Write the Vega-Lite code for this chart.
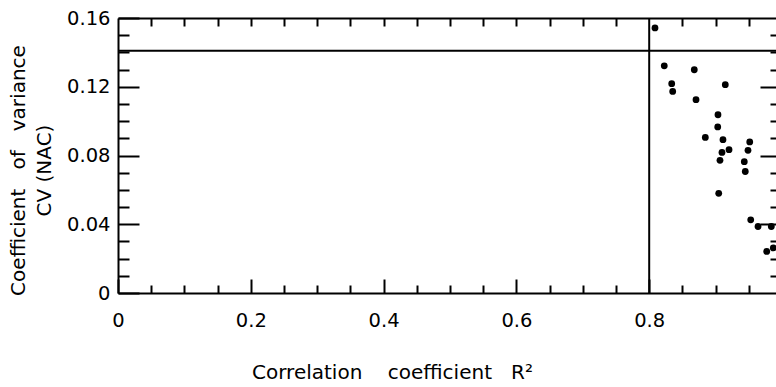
{
  "$schema": "https://vega.github.io/schema/vega-lite/v6.json",
  "autosize": {"type": "none"},
  "padding": {"left": 118, "top": 18, "right": 0, "bottom": 94},
  "width": 658,
  "height": 275,
  "background": "white",
  "config": {
    "view": {"stroke": null},
    "axis": {"grid": false, "domainColor": "black", "domainWidth": 2, "tickColor": "black", "tickWidth": 2, "labelColor": "black", "titleColor": "black", "labelFont": "DejaVu Sans", "titleFont": "DejaVu Sans", "labelFontSize": 19.5, "titleFontSize": 20, "titleFontWeight": "normal"}
  },
  "datasets": {
    "pts": [
      {"r2": 0.8087, "cv": 0.1542},
      {"r2": 0.8227, "cv": 0.1322},
      {"r2": 0.8679, "cv": 0.1299},
      {"r2": 0.8339, "cv": 0.1218},
      {"r2": 0.8354, "cv": 0.1173},
      {"r2": 0.9146, "cv": 0.1212},
      {"r2": 0.8705, "cv": 0.1125},
      {"r2": 0.9036, "cv": 0.1037},
      {"r2": 0.9032, "cv": 0.0966},
      {"r2": 0.8845, "cv": 0.0905},
      {"r2": 0.9111, "cv": 0.0892},
      {"r2": 0.9202, "cv": 0.0834},
      {"r2": 0.9096, "cv": 0.0818},
      {"r2": 0.9066, "cv": 0.0772},
      {"r2": 0.9514, "cv": 0.0879},
      {"r2": 0.9488, "cv": 0.0830},
      {"r2": 0.9432, "cv": 0.0764},
      {"r2": 0.9447, "cv": 0.0707},
      {"r2": 0.9047, "cv": 0.0580},
      {"r2": 0.9529, "cv": 0.0426},
      {"r2": 0.9639, "cv": 0.0387},
      {"r2": 0.9839, "cv": 0.0387},
      {"r2": 0.9770, "cv": 0.0242},
      {"r2": 0.9869, "cv": 0.0262}
    ]
  },
  "resolve": {"axis": {"x": "independent", "y": "independent"}},
  "layer": [
    {
      "data": {"values": [{"r2": 0.8}]},
      "mark": {"type": "rule", "color": "black", "strokeWidth": 2},
      "encoding": {
        "x": {"field": "r2", "type": "quantitative", "scale": {"domain": [0, 1], "range": [0, 664]},
          "axis": {"orient": "bottom", "values": [0, 0.2, 0.4, 0.6, 0.8, 1.0], "tickSize": -14, "labels": false, "domain": false, "title": null}}
      }
    },
    {
      "data": {"values": [{"cv": 0.141}]},
      "mark": {"type": "rule", "color": "black", "strokeWidth": 2},
      "encoding": {
        "y": {"field": "cv", "type": "quantitative", "scale": {"domain": [0, 0.16]},
          "axis": {"orient": "left", "values": [0, 0.04, 0.08, 0.12, 0.16], "tickSize": -21, "labels": false, "domain": false, "title": null}}
      }
    },
    {
      "data": {"name": "pts"},
      "mark": {"type": "point", "filled": true, "opacity": 0},
      "encoding": {
        "x": {"field": "r2", "type": "quantitative",
          "axis": {"orient": "bottom", "values": [0.05, 0.1, 0.15, 0.25, 0.3, 0.35, 0.45, 0.5, 0.55, 0.65, 0.7, 0.75, 0.85, 0.9, 0.95], "tickSize": -8, "labels": false, "domain": false, "title": null}},
        "y": {"field": "cv", "type": "quantitative",
          "axis": {"orient": "left", "values": [0.01, 0.02, 0.03, 0.05, 0.06, 0.07, 0.09, 0.1, 0.11, 0.13, 0.14, 0.15], "tickSize": -11, "labels": false, "domain": false, "title": null}}
      }
    },
    {
      "data": {"name": "pts"},
      "mark": {"type": "point", "filled": true, "opacity": 0},
      "encoding": {
        "x": {"field": "r2", "type": "quantitative",
          "axis": {"orient": "top", "values": [0.05, 0.1, 0.15, 0.2, 0.25, 0.3, 0.35, 0.4, 0.45, 0.5, 0.55, 0.6, 0.65, 0.7, 0.75, 0.85, 0.9, 0.95], "tickSize": -8, "labels": false, "domain": true, "title": null}},
        "y": {"field": "cv", "type": "quantitative",
          "axis": {"orient": "right", "offset": 6, "values": [0.01, 0.02, 0.03, 0.05, 0.06, 0.07, 0.09, 0.1, 0.11, 0.13, 0.14, 0.15], "tickSize": -12, "labels": false, "domain": true, "title": null}}
      }
    },
    {
      "data": {"name": "pts"},
      "mark": {"type": "point", "filled": true, "opacity": 0},
      "encoding": {
        "x": {"field": "r2", "type": "quantitative", "axis": null},
        "y": {"field": "cv", "type": "quantitative",
          "axis": {"orient": "right", "offset": 6, "values": [0.04, 0.08, 0.12], "tickSize": -22, "labels": false, "domain": false, "title": null}}
      }
    },
    {
      "data": {"name": "pts"},
      "mark": {"type": "point", "filled": true, "color": "black", "opacity": 1, "size": 46},
      "encoding": {
        "x": {"field": "r2", "type": "quantitative",
          "axis": {"orient": "bottom", "values": [0, 0.2, 0.4, 0.6, 0.8], "format": ".1~f", "ticks": false, "labelPadding": 18, "labelFlush": false, "labelOverlap": false, "domain": true,
            "title": "Correlation\u00a0\u00a0\u00a0\u00a0coefficient\u00a0\u00a0\u00a0R²", "titleX": 274, "titleY": 85, "titleAlign": "center", "titleBaseline": "alphabetic"}},
        "y": {"field": "cv", "type": "quantitative",
          "axis": {"orient": "left", "values": [0, 0.04, 0.08, 0.12, 0.16], "format": ".2~f", "ticks": false, "labelPadding": 8, "labelFlush": false, "labelOverlap": false, "domain": true,
            "title": ["Coefficient\u00a0\u00a0\u00a0of\u00a0\u00a0\u00a0variance", "CV\u00a0(NAC)"], "titleX": -100, "titleY": 152, "titleAngle": -90, "titleAlign": "center", "titleBaseline": "middle", "titleLineHeight": 26.5}}
      }
    }
  ]
}
